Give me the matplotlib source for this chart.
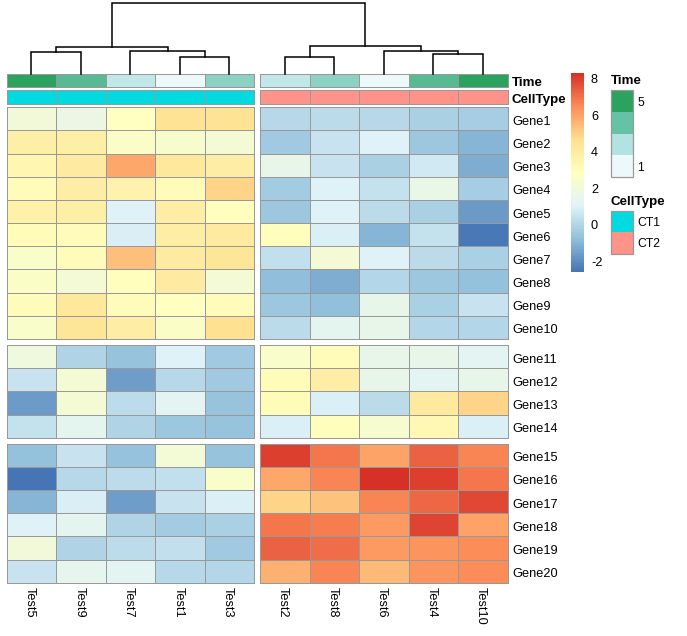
import numpy as np
import matplotlib
matplotlib.use("Agg")
import matplotlib.pyplot as plt
from matplotlib.colors import LinearSegmentedColormap, ListedColormap, Normalize
from matplotlib.patches import Rectangle
from matplotlib.cm import ScalarMappable

plt.rcParams["font.family"] = ["Liberation Sans", "DejaVu Sans"]
plt.rcParams["axes.unicode_minus"] = False

# data, columns in the order shown (after clustering)
samples = ["Test5", "Test9", "Test7", "Test1", "Test3",
           "Test2", "Test8", "Test6", "Test4", "Test10"]
genes = ["Gene%d" % i for i in range(1, 21)]
expr = np.array([
    [2.0, 1.7, 2.8, 4.5, 4.5, 0.1, 0.2, 0.1, -0.2, -0.3],
    [3.8, 3.8, 2.6, 2.4, 2.2, -0.4, 0.5, 1.0, -0.5, -1.0],
    [3.4, 4.0, 5.9, 4.2, 3.9, 1.5, 0.5, -0.2, 0.7, -1.2],
    [3.1, 3.9, 3.6, 3.1, 4.9, -0.35, 1.0, 0.4, 1.6, -0.3],
    [3.7, 3.8, 1.0, 3.9, 2.9, -0.5, 1.0, 0.2, -0.2, -1.7],
    [3.1, 3.0, 0.85, 3.9, 4.0, 2.9, 0.9, -1.0, 0.4, -2.5],
    [2.5, 3.0, 5.4, 4.0, 4.3, 0.35, 2.2, 1.0, 0.2, -0.2],
    [2.6, 2.2, 2.9, 4.0, 2.2, -0.8, -1.2, 0.0, -0.5, -0.7],
    [3.0, 4.2, 3.0, 2.8, 3.0, -0.5, -0.75, 1.5, -0.2, 0.5],
    [2.5, 4.3, 3.9, 2.6, 4.6, 0.2, 1.3, 1.5, 0.0, 0.0],
    [1.9, -0.05, -0.6, 1.0, -0.4, 2.5, 3.1, 1.5, 1.5, 1.2],
    [0.5, 2.2, -1.6, 0.1, -0.4, 3.1, 3.9, 1.5, 1.2, 1.5],
    [-1.65, 2.2, 0.25, 1.2, -0.6, 3.1, 0.9, 0.2, 4.1, 4.9],
    [0.4, 1.3, -0.05, -0.5, -0.6, 0.9, 2.9, 2.3, 3.3, 0.9],
    [-0.7, 0.5, -0.65, 2.1, -0.6, 8.0, 6.9, 6.0, 7.3, 6.6],
    [-2.6, 0.1, 0.25, 0.35, 2.5, 5.9, 6.6, 8.3, 8.0, 6.9],
    [-1.0, 0.85, -1.6, 0.5, 0.9, 4.9, 5.3, 6.6, 7.2, 7.8],
    [1.0, 1.3, -0.05, -0.35, -0.2, 6.9, 6.8, 6.2, 7.9, 6.0],
    [2.0, -0.05, 0.25, 0.35, -0.4, 7.3, 7.1, 6.2, 6.3, 6.5],
    [0.5, 1.4, 1.2, 0.1, 0.0, 5.7, 6.6, 5.5, 6.3, 6.5],
])
time = [5, 4, 2, 1, 3, 2, 3, 1, 4, 5]
cell_type = ["CT1"] * 5 + ["CT2"] * 5
row_breaks = [0, 10, 14, 20]
col_breaks = [0, 5, 10]

# column dendrogram: (left, right, height), nodes referenced by leaf name or merge index
merges = [
    ("Test5", "Test9", 3.07),
    ("Test1", "Test3", 2.45),
    ("Test7", 1, 3.21),
    (0, 2, 3.78),
    ("Test2", "Test8", 2.45),
    ("Test4", "Test10", 2.79),
    ("Test6", 5, 3.21),
    (4, 6, 3.92),
    (3, 7, 10.0),
]

heat_cols = ["#4575B4", "#91BFDB", "#E0F3F8", "#FFFFBF", "#FEE090", "#FC8D59", "#D73027"]
time_cols = ["#EDF8FB", "#B2E2E2", "#66C2A4", "#2CA25F"]
ct_cols = {"CT1": "#00DAE0", "CT2": "#FF9289"}
border = "#999999"

cmap = LinearSegmentedColormap.from_list("rdylbu", heat_cols)
norm = Normalize(vmin=-2.6, vmax=8.3)
tcmap = LinearSegmentedColormap.from_list("bugn", time_cols)
tnorm = Normalize(vmin=1, vmax=5)

# layout in pixels
W, H = 687, 636
left, cw, cgap = 6.7, 49.5, 5.8
top, rh, rgap = 107.3, 23.17, 6.0
lw = 0.7

fig = plt.figure(figsize=(W / 100, H / 100), dpi=100)
ax = fig.add_axes([0, 0, 1, 1])
ax.set_xlim(0, W)
ax.set_ylim(H, 0)
ax.axis("off")


def col_edges(a, b):
    g = cgap if a >= 5 else 0
    return left + g + np.arange(a, b + 1) * cw


def row_edges(a, b):
    g = rgap * sum(a >= rb for rb in row_breaks[1:-1])
    return top + g + np.arange(a, b + 1) * rh


# heatmap blocks
for r0, r1 in zip(row_breaks[:-1], row_breaks[1:]):
    for c0, c1 in zip(col_breaks[:-1], col_breaks[1:]):
        ax.pcolormesh(col_edges(c0, c1), row_edges(r0, r1), expr[r0:r1, c0:c1],
                      cmap=cmap, norm=norm, edgecolors=border, linewidth=lw)

# annotation rows
t_arr = np.array([time], dtype=float)
ct_arr = np.array([[0 if c == "CT1" else 1 for c in cell_type]])
ctmap = ListedColormap([ct_cols["CT1"], ct_cols["CT2"]])
for c0, c1 in zip(col_breaks[:-1], col_breaks[1:]):
    xe = col_edges(c0, c1)
    ax.pcolormesh(xe, [74, 87.3], t_arr[:, c0:c1], cmap=tcmap, norm=tnorm,
                  edgecolors=border, linewidth=lw)
    ax.pcolormesh(xe, [90.3, 103.7], ct_arr[:, c0:c1], cmap=ctmap, vmin=0, vmax=1,
                  edgecolors=border, linewidth=lw)

ax.text(512, 83, "Time", fontsize=9.6, fontweight="bold", va="center")
ax.text(512, 99.5, "CellType", fontsize=9.6, fontweight="bold", va="center")

# gene and sample labels
for i, g in enumerate(genes):
    ye = row_edges(i, i + 1)
    ax.text(512, ye.mean() + 3, g, fontsize=9.2, va="center")
for j, s in enumerate(samples):
    xe = col_edges(j, j + 1)
    ax.text(xe.mean() - 1.5, 587, s, fontsize=9.2, rotation=-90, ha="center", va="top")

# dendrogram
leaf_x = {s: col_edges(j, j + 1).mean() for j, s in enumerate(samples)}
dend_bottom, dend_h = 74, 70.7
hmax = max(m[2] for m in merges)
node_pos = []


def pos(n):
    if isinstance(n, str):
        return leaf_x[n], 0.0
    return node_pos[n]


for a, b, h in merges:
    xa, ha = pos(a)
    xb, hb = pos(b)
    ya = dend_bottom - ha / hmax * dend_h
    yb = dend_bottom - hb / hmax * dend_h
    yh = dend_bottom - h / hmax * dend_h
    ax.plot([xa, xa, xb, xb], [ya, yh, yh, yb], color="black", lw=1.1,
            solid_joinstyle="miter")
    node_pos.append(((xa + xb) / 2, h))

# colour bar
cax = fig.add_axes([571 / W, 1 - 272 / H, 13 / W, (272 - 73.3) / H])
cb = fig.colorbar(ScalarMappable(norm=norm, cmap=cmap), cax=cax,
                  ticks=[-2, 0, 2, 4, 6, 8])
cb.outline.set_visible(False)
cax.tick_params(length=0, pad=5, labelsize=9.2)

# Time legend
ax.text(610.5, 80.5, "Time", fontsize=9.6, fontweight="bold", va="center")
bh = (177.3 - 90) / len(time_cols)
for k, c in enumerate(time_cols[::-1]):
    ax.add_patch(Rectangle((611, 90 + k * bh), 21.5, bh, facecolor=c, edgecolor="none"))
ax.add_patch(Rectangle((611, 90), 21.5, 177.3 - 90, facecolor="none",
                       edgecolor=border, lw=0.9))
ax.text(637, 90 + bh / 2 + 2, "5", fontsize=8.8, va="center")
ax.text(637, 177.3 - bh / 2 + 2, "1", fontsize=8.8, va="center")

# CellType legend
ax.text(610.5, 201.5, "CellType", fontsize=9.6, fontweight="bold", va="center")
for k, name in enumerate(ct_cols):
    y0 = 210.7 + k * 21.7
    ax.add_patch(Rectangle((611, y0), 21.5, 21.7, facecolor=ct_cols[name], edgecolor="none"))
    ax.text(637, y0 + 12, name, fontsize=8.8, va="center")
ax.add_patch(Rectangle((611, 210.7), 21.5, 43.4, facecolor="none", edgecolor=border, lw=0.9))

fig.savefig("out.png", dpi=100)
